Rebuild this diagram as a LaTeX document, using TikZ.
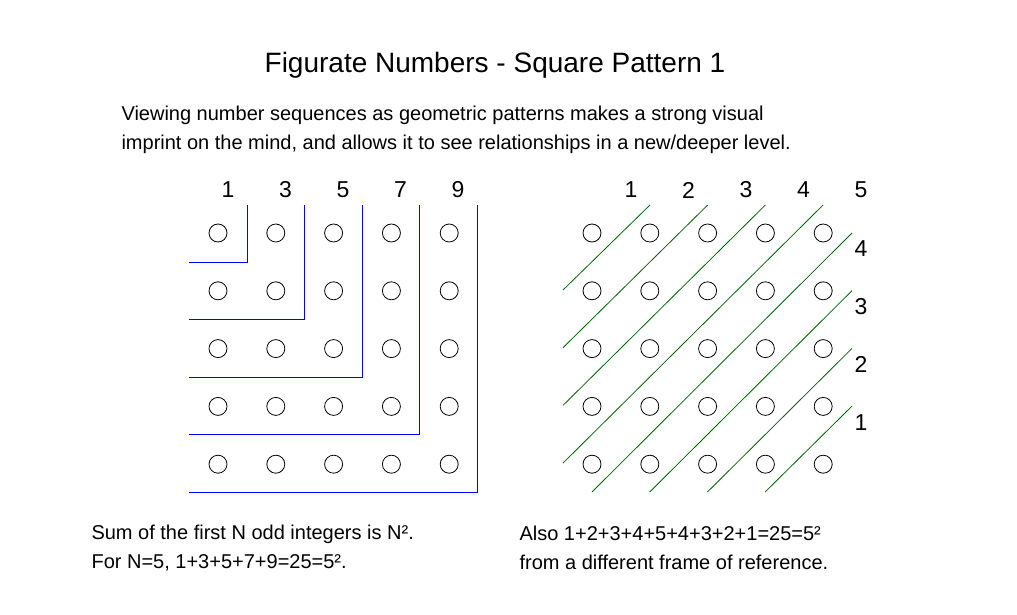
\documentclass[tikz,border=0pt]{standalone}
\usepackage{fontspec}
\setmainfont{Liberation Sans}
\tikzset{
  dot/.style={circle, draw=black, thick, minimum size=18pt, inner sep=0pt},
  oddline/.style={draw=blue, thick},
  diagline/.style={draw=green!40!black, thick},
  numlabel/.style={font=\fontsize{23}{27}\selectfont},
  bodytext/.style={font=\fontsize{20}{29}\selectfont, anchor=west, align=left},
}
\begin{document}
\begin{tikzpicture}[x=1pt, y=-1pt]
  \useasboundingbox (0,0) rectangle (1017,615);
  \node[font=\fontsize{28}{32}\selectfont] (title) at (495,65) {Figurate Numbers - Square Pattern 1};
  \node[bodytext] (intro) at (118,130) {Viewing number sequences as geometric patterns makes a strong visual\\imprint on the mind, and allows it to see relationships in a new/deeper level.};
  % dot grids
  \foreach \i in {1,...,5} {
    \foreach \j in {1,...,5} {
      \node[dot] (l\i\j) at ({218+57.8*(\i-1)},{233+57.8*(\j-1)}) {};
      \node[dot] (r\i\j) at ({592+57.8*(\i-1)},{233+57.8*(\j-1)}) {};
    }
  }
  % odd L shapes
  \foreach \k/\lab in {1/1,2/3,3/5,4/7,5/9} {
    \draw[oddline] ({247+57.5*(\k-1)},205) |- (189,{262+57.5*(\k-1)});
    \node[numlabel] (odd\k) at ({228+57.5*(\k-1)},190) {\lab};
  }
  % diagonals
  \foreach \k in {1,...,4} {
    \draw[diagline] (563,{290+57.7*(\k-1)}) -- ({650+57.7*(\k-1)},205);
    \draw[diagline] ({592+57.7*(\k-1)},492) -- (852,{233+57.7*(\k-1)});
  }
  \foreach \k in {1,...,5} {
    \node[numlabel] (top\k) at ({631+57.5*(\k-1)},190) {\k};
  }
  \foreach \k/\lab in {1/4,2/3,3/2,4/1} {
    \node[numlabel] (side\k) at (861,{249+57.7*(\k-1)}) {\lab};
  }
  \node[bodytext] (sumodd) at (88,548) {Sum of the first N odd integers is N².\\For N=5, 1+3+5+7+9=25=5².};
  \node[bodytext] (sumdiag) at (516,548) {Also 1+2+3+4+5+4+3+2+1=25=5²\\from a different frame of reference.};
\end{tikzpicture}
\end{document}
